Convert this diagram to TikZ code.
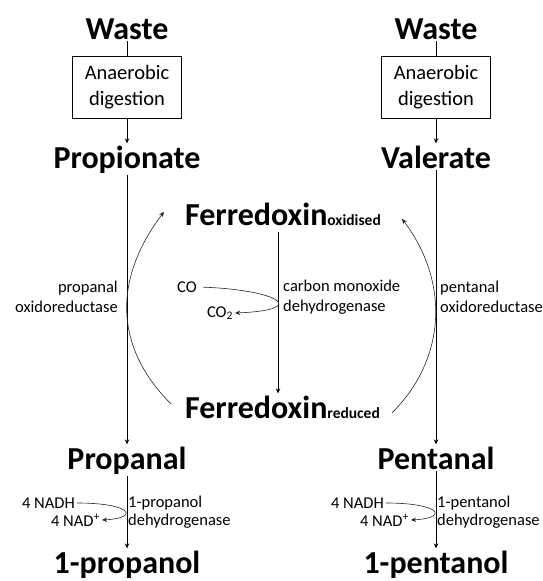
\documentclass[tikz,border=0pt]{standalone}
\usepackage{fontspec}
\setmainfont{Carlito}
\usetikzlibrary{arrows.meta, positioning, calc}

\newcommand{\redox}[1]{{\fontsize{15.5}{16}\selectfont #1}}

\begin{document}
\begin{tikzpicture}[
  x=1pt, y=-1pt,
  >={Stealth[length=5pt, width=4.5pt]},
  metab/.style={font=\bfseries\fontsize{32}{36}\selectfont, inner sep=2pt, anchor=base},
  stepbox/.style={draw, line width=0.6pt, minimum width=109pt, minimum height=62pt, align=center, font=\fontsize{20.5}{26}\selectfont},
  enzyme/.style={font=\fontsize{16.5}{20}\selectfont, inner sep=2pt},
  cofac/.style={font=\fontsize{16.5}{17.5}\selectfont, inner sep=2pt},
  flow/.style={line width=0.7pt},
  recycle/.style={line width=0.6pt, black!85},
]
  \useasboundingbox (0,0) rectangle (543,581);

  % left branch
  \node[metab] (wasteL) at (127,39) {Waste};
  \node[stepbox] (digL) at (127,87.5) {Anaerobic\\digestion};
  \node[metab] (propionate) at (127,168) {Propionate};
  \node[metab] (propanal) at (127,469) {Propanal};
  \node[metab] (propanol) at (127,573) {1-propanol};

  % right branch
  \node[metab] (wasteR) at (436,39) {Waste};
  \node[stepbox] (digR) at (436,87.5) {Anaerobic\\digestion};
  \node[metab] (valerate) at (436,168) {Valerate};
  \node[metab] (pentanal) at (436,469) {Pentanal};
  \node[metab] (pentanol) at (436,573) {1-pentanol};

  % ferredoxin cycle
  \node[metab] (fdxox) at (283,225) {Ferredoxin\redox{oxidised}};
  \node[metab] (fdxred) at (282.5,418) {Ferredoxin\redox{reduced}};

  % enzymes
  \node[enzyme, anchor=east, align=right] (podr) at (120,297) {propanal\\oxidoreductase};
  \node[enzyme, anchor=west, align=left] (pedr) at (438,297) {pentanal\\oxidoreductase};
  \node[enzyme, anchor=west, align=left] (codh) at (281,297) {carbon monoxide\\dehydrogenase};
  \node[cofac, anchor=west, align=left] (prdh) at (126,512) {1-propanol\\dehydrogenase};
  \node[cofac, anchor=west, align=left] (pedh) at (435,512) {1-pentanol\\dehydrogenase};

  % cofactors
  \node[enzyme] (co) at (187,287) {CO};
  \node[enzyme] (co2) at (220,313) {CO\textsubscript{2}};
  \node[cofac, anchor=east] (nadhL) at (77,503) {4 NADH};
  \node[cofac, anchor=east] (nadL) at (102,520) {4 NAD\textsuperscript{+}};
  \node[cofac, anchor=east] (nadhR) at (386,503) {4 NADH};
  \node[cofac, anchor=east] (nadR) at (411,520) {4 NAD\textsuperscript{+}};

  % main flow
  \draw[flow] (wasteL) -- (digL);
  \draw[flow, ->] (digL) -- (propionate);
  \draw[flow, ->] (propionate) -- (propanal);
  \draw[flow, ->] (propanal) -- (propanol);
  \draw[flow] (wasteR) -- (digR);
  \draw[flow, ->] (digR) -- (valerate);
  \draw[flow, ->] (valerate) -- (pentanal);
  \draw[flow, ->] (pentanal) -- (pentanol);
  \draw[flow, ->] ([xshift=-5pt, yshift=-5pt]fdxox.south) -- ([xshift=-4.5pt]fdxred.north);

  % side reactions
  \draw[recycle, ->] ([shift={(-12,-3)}]fdxred.west) .. controls +(-58,-58) and +(-50,66) .. ([shift={(-19,-2)}]fdxox.west);
  \draw[recycle, ->] ([shift={(10,6)}]fdxred.east) .. controls +(55,-55) and +(47,62) .. ([shift={(19,5)}]fdxox.east);
  \draw[recycle, ->, shorten <=4pt] (co.east) .. controls +(80,3) and +(75,-3) .. (co2.east);
  \draw[recycle, ->] (nadhL.east) .. controls +(55,0) and +(38,-2) .. (nadL.east);
  \draw[recycle, ->] (nadhR.east) .. controls +(55,0) and +(38,-2) .. (nadR.east);
\end{tikzpicture}
\end{document}
